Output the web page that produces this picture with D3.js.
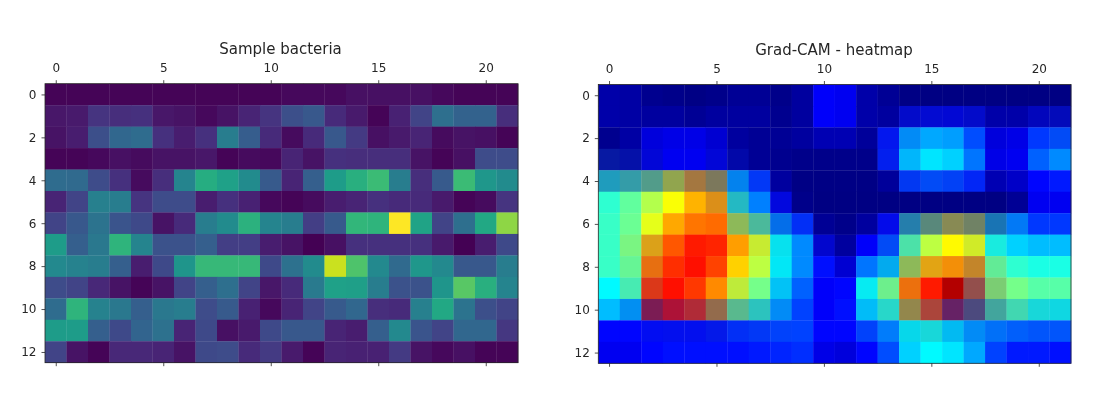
<!DOCTYPE html>
<html><head><meta charset="utf-8">
<script src="https://cdn.jsdelivr.net/npm/d3@7"></script>
<style>html,body{margin:0;padding:0;background:#fff}svg{display:block;font-family:"DejaVu Sans",sans-serif;filter:blur(0.35px)}</style>
</head><body><svg id="c" width="1100" height="396"></svg>
<script>
const titles = ["Sample bacteria", "Grad-CAM - heatmap"];
const xTicks = [0, 5, 10, 15, 20];
const yTicks = [0, 2, 4, 6, 8, 10, 12];
const nCols = 22, nRows = 13;

// Left panel: values on the viridis scale
const sample = [
[.01,.01,.01,.01,.01,.01,.01,.01,.01,.01,.01,.02,.02,.02,.04,.04,.04,.04,.02,.01,.01,.01],
[.06,.07,.15,.13,.14,.06,.05,.02,.05,.10,.15,.24,.27,.12,.07,.01,.09,.20,.36,.31,.31,.13],
[.05,.08,.24,.33,.35,.14,.08,.14,.42,.29,.12,.03,.12,.27,.17,.04,.07,.10,.03,.05,.04,.01],
[.01,.01,.02,.04,.03,.05,.05,.06,.01,.03,.02,.10,.05,.14,.13,.13,.13,.05,.01,.04,.23,.23],
[.35,.34,.23,.14,.03,.13,.45,.62,.57,.48,.28,.10,.30,.55,.63,.68,.42,.13,.28,.68,.53,.48],
[.10,.20,.43,.42,.15,.23,.23,.08,.14,.09,.02,.01,.03,.08,.10,.14,.12,.12,.07,.01,.03,.15],
[.20,.27,.38,.26,.22,.05,.12,.42,.48,.64,.45,.42,.18,.28,.66,.65,1.0,.58,.20,.36,.60,.83],
[.55,.30,.40,.65,.45,.25,.25,.30,.18,.18,.08,.05,.00,.04,.14,.14,.14,.14,.07,.00,.08,.22],
[.47,.44,.42,.30,.08,.22,.52,.67,.67,.67,.22,.37,.48,.92,.72,.47,.34,.53,.47,.27,.27,.42],
[.23,.20,.11,.05,.01,.05,.20,.30,.36,.20,.06,.12,.41,.57,.56,.42,.25,.25,.52,.74,.63,.45],
[.35,.65,.44,.40,.30,.40,.42,.23,.28,.09,.02,.10,.20,.28,.33,.13,.12,.43,.60,.38,.24,.20],
[.55,.55,.30,.22,.32,.37,.10,.22,.04,.07,.22,.27,.27,.10,.08,.30,.47,.26,.20,.33,.33,.16],
[.20,.05,.01,.11,.11,.10,.05,.22,.23,.12,.17,.07,.01,.10,.09,.09,.17,.05,.02,.04,.01,.01]
];

// Right panel: values on the jet scale
const cam = [
[.04,.035,.015,.01,.005,.01,.02,.02,.01,.03,.12,.11,.04,.02,.005,.003,.003,.003,.003,.003,.003,.003],
[.04,.035,.03,.03,.02,.03,.03,.03,.015,.03,.12,.11,.04,.03,.08,.09,.09,.08,.04,.04,.06,.06],
[.015,.035,.09,.10,.10,.08,.03,.02,.02,.03,.05,.05,.025,.14,.27,.29,.28,.20,.09,.10,.18,.20],
[.03,.04,.09,.11,.11,.09,.04,.02,.015,.01,.01,.01,.01,.15,.31,.35,.33,.24,.10,.11,.22,.26],
[.42,.46,.52,.62,.72,.68,.27,.18,.03,.005,.005,.005,.005,.025,.18,.20,.19,.16,.05,.07,.13,.15],
[.42,.47,.55,.62,.70,.72,.42,.25,.10,.01,.003,.003,.003,.003,.003,.003,.003,.003,.003,.02,.11,.11],
[.43,.48,.60,.71,.76,.77,.58,.48,.25,.17,.02,.01,.03,.12,.45,.57,.66,.64,.42,.25,.18,.18],
[.43,.50,.70,.79,.85,.84,.72,.59,.38,.26,.08,.03,.12,.20,.46,.56,.63,.60,.40,.33,.31,.31],
[.43,.48,.76,.83,.86,.81,.67,.56,.37,.26,.14,.08,.24,.32,.58,.70,.73,.72,.48,.42,.40,.40],
[.37,.45,.82,.86,.82,.74,.58,.49,.33,.22,.12,.13,.38,.49,.76,.85,.95,.78,.53,.49,.46,.46],
[.31,.28,.90,.88,.84,.73,.50,.43,.27,.19,.12,.14,.32,.42,.68,.80,.90,.75,.48,.45,.40,.39],
[.13,.13,.13,.13,.13,.14,.17,.18,.19,.19,.13,.13,.19,.25,.38,.40,.33,.27,.24,.22,.21,.21],
[.11,.11,.13,.14,.14,.14,.14,.15,.16,.17,.10,.09,.13,.20,.33,.37,.35,.29,.19,.15,.15,.14]
];

// Right panel: how far each cell is muted toward the underlying dark blue
const camMute = [
[0,0,0,0,0,0,0,0,0,0,0,0,0,0,0,0,0,0,0,0,0,0],
[0,0,0,0,0,0,0,0,0,0,0,0,0,0,.2,.2,.15,.2,0,0,.1,.2],
[0,0,0,0,0,0,0,0,0,0,0,0,0,.2,.1,0,0,0,0,0,0,.1],
[.45,.3,.1,0,0,.1,.15,0,0,0,0,0,0,.2,.05,0,0,0,0,0,0,0],
[.5,.5,.5,.45,.38,.55,.2,.1,0,0,0,0,0,0,.15,.1,.1,.1,0,0,0,0],
[0,0,0,0,0,.15,.35,0,.15,0,0,0,0,0,0,0,0,0,0,0,0,0],
[0,0,0,0,0,0,.35,.35,.25,.1,0,0,0,.2,.65,.6,.5,.6,.7,.1,0,0],
[0,.05,.15,0,0,0,0,.1,.15,0,.1,0,0,.1,.15,0,0,.1,.1,0,0,0],
[0,.05,.1,0,0,0,0,0,.1,0,0,0,0,.2,.35,.12,.05,.25,.1,0,0,0],
[0,.1,.15,0,0,0,.1,0,.1,0,0,0,.1,.08,.08,0,0,.45,.25,0,0,0],
[0,.15,.5,.33,.33,.45,.35,.3,.1,0,0,0,.08,.2,.45,.35,.6,.75,.45,.2,.2,.2],
[0,0,.15,.2,.2,.25,.1,.1,.05,0,0,0,.05,.05,.2,.2,.15,.1,.08,.05,.05,.05],
[0,0,0,0,0,0,0,0,0,0,0,0,0,0,0,0,0,0,0,0,0,0]
];

const jet = d3.scaleLinear()
  .domain([0, .11, .125, .375, .625, .875, 1])
  .range(["#000080", "#0000f1", "#0000ff", "#00ffff", "#ffff00", "#ff0000", "#800000"]);
const muteTarget = "#1038a8";
const ink = "#262626";

const svg = d3.select("#c");
const panels = [
  {x0: 45, x1: 518, y0: 83.7, y1: 362.7, cx: 280.5, tx: 0,
   rows: sample, color: (v) => d3.interpolateViridis(v)},
  {x0: 598.3, x1: 1071, y0: 84.5, y1: 363.3, cx: 834, tx: 1,
   rows: cam, color: (v, r, c) => d3.interpolateRgb(jet(v), muteTarget)(camMute[r][c])}
];

panels.forEach(p => {
  const g = svg.append("g");
  const bx = d3.scaleBand().domain(d3.range(nCols)).range([p.x0, p.x1]);
  const by = d3.scaleBand().domain(d3.range(nRows)).range([p.y0, p.y1]);
  const lx = d3.scaleLinear().domain([-.5, nCols - .5]).range([p.x0, p.x1]);
  const ly = d3.scaleLinear().domain([-.5, nRows - .5]).range([p.y0, p.y1]);

  const cells = p.rows.flatMap((row, r) => row.map((v, c) => ({v, r, c})));
  g.selectAll("rect.cell").data(cells).join("rect").attr("class", "cell")
    .attr("x", d => bx(d.c)).attr("y", d => by(d.r))
    .attr("width", bx.bandwidth() + .3).attr("height", by.bandwidth() + .3)
    .attr("fill", d => p.color(d.v, d.r, d.c));

  g.append("rect").attr("x", p.x0).attr("y", p.y0)
    .attr("width", p.x1 - p.x0).attr("height", p.y1 - p.y0)
    .attr("fill", "none").attr("stroke", ink).attr("stroke-width", .8);

  const style = a => {
    a.select(".domain").remove();
    a.selectAll(".tick line").attr("stroke", ink).attr("stroke-width", .8);
    a.selectAll(".tick text").attr("fill", ink).attr("font-size", 12)
      .attr("font-family", '"DejaVu Sans",sans-serif');
  };
  g.append("g").attr("transform", `translate(0,${p.y0})`)
    .call(d3.axisTop(lx).tickValues(xTicks).tickSize(3.5).tickPadding(8.5)).call(style);
  g.append("g").attr("transform", `translate(0,${p.y1})`)
    .call(d3.axisBottom(lx).tickValues(xTicks).tickSize(3.5).tickFormat("")).call(style);
  g.append("g").attr("transform", `translate(${p.x0},0)`)
    .call(d3.axisLeft(ly).tickValues(yTicks).tickSize(3.5).tickPadding(5)).call(style);

  g.append("text").attr("x", p.cx).attr("y", p.tx ? 54.5 : 53.5)
    .attr("text-anchor", "middle").attr("font-size", 15).attr("fill", ink)
    .text(titles[p.tx]);
});
</script></body></html>
